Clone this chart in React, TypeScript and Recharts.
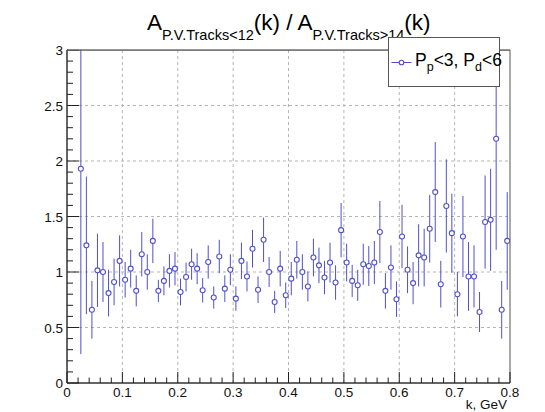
import React from 'react';
import { ScatterChart, Scatter, XAxis, YAxis, CartesianGrid, ErrorBar, ReferenceArea } from 'recharts';

const kValues = [
  0.025, 0.035, 0.045, 0.055, 0.065, 0.075, 0.085, 0.095, 0.105, 0.115,
  0.125, 0.135, 0.145, 0.155, 0.165, 0.175, 0.185, 0.195, 0.205, 0.215,
  0.225, 0.235, 0.245, 0.255, 0.265, 0.275, 0.285, 0.295, 0.305, 0.315,
  0.325, 0.335, 0.345, 0.355, 0.365, 0.375, 0.385, 0.395, 0.405, 0.415,
  0.425, 0.435, 0.445, 0.455, 0.465, 0.475, 0.485, 0.495, 0.505, 0.515,
  0.525, 0.535, 0.545, 0.555, 0.565, 0.575, 0.585, 0.595, 0.605, 0.615,
  0.625, 0.635, 0.645, 0.655, 0.665, 0.675, 0.685, 0.695, 0.705, 0.715,
  0.725, 0.735, 0.745, 0.755, 0.765, 0.775, 0.785, 0.795,
];

const ratioValues = [
  1.93, 1.24, 0.66, 1.015, 1.0, 0.81, 0.91, 1.1, 0.93, 1.03,
  0.83, 1.16, 1.0, 1.28, 0.83, 0.92, 1.01, 1.03, 0.82, 0.955,
  1.07, 1.03, 0.835, 1.09, 0.77, 1.14, 0.85, 1.02, 0.76, 1.1,
  0.96, 1.21, 0.84, 1.29, 1.0, 0.73, 1.03, 0.79, 0.94, 1.11,
  1.0, 0.87, 1.13, 1.06, 0.95, 1.085, 0.905, 1.377, 1.085, 0.92,
  0.88, 1.07, 1.054, 1.085, 1.36, 0.83, 1.04, 0.755, 1.32, 1.02,
  0.9, 1.15, 1.13, 1.39, 1.72, 0.89, 1.595, 1.35, 0.8, 1.32,
  0.96, 0.96, 0.64, 1.45, 1.47, 2.2, 0.66, 1.28,
];

const ratioErrors = [
  1.67, 0.62, 0.26, 0.33, 0.27, 0.21, 0.21, 0.23, 0.16, 0.17,
  0.14, 0.2, 0.16, 0.2, 0.1, 0.13, 0.15, 0.15, 0.12, 0.13,
  0.14, 0.14, 0.11, 0.15, 0.1, 0.15, 0.12, 0.14, 0.11, 0.165,
  0.135, 0.17, 0.12, 0.2, 0.135, 0.1, 0.16, 0.115, 0.15, 0.17,
  0.16, 0.135, 0.17, 0.16, 0.15, 0.18, 0.155, 0.245, 0.17, 0.145,
  0.14, 0.185, 0.18, 0.195, 0.28, 0.16, 0.2, 0.16, 0.285, 0.21,
  0.19, 0.28, 0.26, 0.305, 0.45, 0.21, 0.42, 0.355, 0.2, 0.365,
  0.31, 0.28, 0.18, 0.42, 0.46, 1.0, 0.26, 0.44,
];

const xTicks = [
  0, 0.02, 0.04, 0.06, 0.08, 0.1, 0.12, 0.14, 0.16, 0.18,
  0.2, 0.22, 0.24, 0.26, 0.28, 0.3, 0.32, 0.34, 0.36, 0.38,
  0.4, 0.42, 0.44, 0.46, 0.48, 0.5, 0.52, 0.54, 0.56, 0.58,
  0.6, 0.62, 0.64, 0.66, 0.68, 0.7, 0.72, 0.74, 0.76, 0.78, 0.8,
];
const yTicks = [
  0, 0.1, 0.2, 0.3, 0.4, 0.5, 0.6, 0.7, 0.8, 0.9,
  1, 1.1, 1.2, 1.3, 1.4, 1.5, 1.6, 1.7, 1.8, 1.9,
  2, 2.1, 2.2, 2.3, 2.4, 2.5, 2.6, 2.7, 2.8, 2.9, 3,
];
const xGridValues = [0.1, 0.2, 0.3, 0.4, 0.5, 0.6, 0.7];
const yGridValues = [0.5, 1, 1.5, 2, 2.5];

const data = kValues.map((k, i) => ({ k, ratio: ratioValues[i], err: ratioErrors[i] }));

const BLUE = '#5050cf';
const FONT = '"Liberation Sans", Arial, Helvetica, sans-serif';

const isMajor = (v: number, step: number) => Math.abs(v / step - Math.round(v / step)) < 1e-6;
const fmt = (v: number) => (v === 0 ? '0' : String(Math.round(v * 10) / 10));

function XTick(props: any) {
  const { x, y, payload } = props;
  const v = payload.value as number;
  const major = isMajor(v, 0.1);
  return (
    <g>
      <line x1={x} y1={y} x2={x} y2={y - (major ? 11 : 5.5)} stroke="#222" strokeWidth={1} />
      {major && (
        <text x={x} y={y + 14} textAnchor="middle" fontSize={13.5} fill="#111" fontFamily={FONT}>
          {fmt(v)}
        </text>
      )}
    </g>
  );
}

function YTick(props: any) {
  const { x, y, payload } = props;
  const v = payload.value as number;
  const major = isMajor(v, 0.5);
  return (
    <g>
      <line x1={x} y1={y} x2={x + (major ? 12 : 6)} y2={y} stroke="#222" strokeWidth={1} />
      {major && (
        <text x={x - 4} y={y + 5} textAnchor="end" fontSize={13.5} fill="#111" fontFamily={FONT}>
          {fmt(v)}
        </text>
      )}
    </g>
  );
}

const Marker = (p: any) => (
  <circle cx={p.cx} cy={p.cy} r={2.5} fill="#fff" stroke={BLUE} strokeWidth={1.1} />
);

export default function App() {
  return (
    <div style={{ position: 'relative', width: 545, height: 412, background: '#fff', fontFamily: FONT }}>
      <style>{'body{margin:0;}'}</style>
      <ScatterChart width={545} height={412} margin={{ top: 50, right: 35, bottom: 0, left: 0 }}>
        <CartesianGrid
          stroke="#b5b5b5"
          strokeDasharray="3 3"
          verticalValues={xGridValues}
          horizontalValues={yGridValues}
        />
        <XAxis
          type="number"
          dataKey="k"
          domain={[0, 0.8]}
          ticks={xTicks}
          interval={0}
          allowDataOverflow
          height={29}
          tickSize={0}
          tickMargin={0}
          tickLine={false}
          axisLine={{ stroke: '#222' }}
          tick={<XTick />}
          label={{ value: 'k, GeV', position: 'insideBottomRight', offset: 3, fontSize: 13.5, fill: '#111', fontFamily: FONT }}
        />
        <YAxis
          type="number"
          dataKey="ratio"
          domain={[0, 3]}
          ticks={yTicks}
          interval={0}
          allowDataOverflow
          width={67}
          tickSize={0}
          tickMargin={0}
          tickLine={false}
          axisLine={{ stroke: '#222' }}
          tick={<YTick />}
        />
        <Scatter data={data} dataKey="ratio" isAnimationActive={false} shape={Marker} fill={BLUE}>
          <ErrorBar dataKey="err" direction="y" width={0} stroke={BLUE} strokeWidth={1} isAnimationActive={false} />
        </Scatter>
        <ReferenceArea x1={0} x2={0.8} y1={0} y2={3} fill="none" stroke="#555" strokeWidth={1} />
      </ScatterChart>
      <svg
        width={545}
        height={412}
        style={{ position: 'absolute', left: 0, top: 0, pointerEvents: 'none' }}
      >
        <rect x={67.5} y={0} width={477.5} height={49.5} fill="#fff" />
        <line x1={67} y1={50} x2={510} y2={50} stroke="#555" strokeWidth={1} />
        <text x={147} y={30} fontSize={22.5} fill="#000" fontFamily={FONT}>
          A
          <tspan fontSize={14.5} dy={10}>{'P.V.Tracks<12'}</tspan>
          <tspan fontSize={22.5} dy={-10}>{'(k) / A'}</tspan>
          <tspan fontSize={14.5} dy={10}>{'P.V.Tracks>14'}</tspan>
          <tspan fontSize={22.5} dy={-10}>{'(k)'}</tspan>
        </text>
        <rect x={388.5} y={37.5} width={111} height={49} fill="#fff" stroke="#555" strokeWidth={1} />
        <line x1={391.5} y1={62.5} x2={411.5} y2={62.5} stroke={BLUE} strokeWidth={1} />
        <circle cx={401.5} cy={62.5} r={2.3} fill="#fff" stroke={BLUE} strokeWidth={1.1} />
        <text x={415} y={66} fontSize={17.5} fill="#000" fontFamily={FONT}>
          P
          <tspan fontSize={12.5} dy={5}>p</tspan>
          <tspan fontSize={17.5} dy={-5}>{'<3, P'}</tspan>
          <tspan fontSize={12.5} dy={5}>d</tspan>
          <tspan fontSize={17.5} dy={-5}>{'<6'}</tspan>
        </text>
      </svg>
    </div>
  );
}
